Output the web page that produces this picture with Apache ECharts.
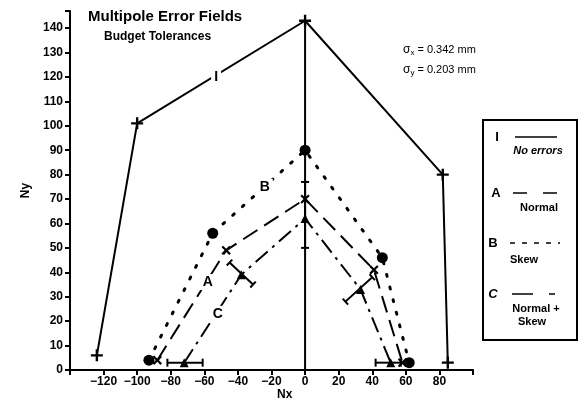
<!DOCTYPE html>
<html><head><meta charset="utf-8">
<script src="https://cdn.jsdelivr.net/npm/echarts@6/dist/echarts.min.js"></script>
<style>html,body{margin:0;padding:0;background:#fff}#c{width:582px;height:405px}</style>
</head><body><div id="c"></div>
<script>
// ---- data ----
const xTickValues = [-120,-100,-80,-60,-40,-20,0,20,40,60,80];
const yTickValues = [0,10,20,30,40,50,60,70,80,90,100,110,120,130,140];
const seriesI = [[-124,6],[-100,101],[0,143],[82,80],[85,3]];          // No errors
const seriesA = [[-88,4],[-47,49],[0,70],[41,41],[58,3]];               // Normal
const seriesB = [[-93,4],[-55,56],[0,90],[46,46],[62,3]];               // Skew
const seriesC = [[-72,3],[-38,39],[0,62],[33,33],[51,3]];               // Normal + Skew
const errorBarsC = [[-82,3,-61,3],[-45,44,-31,35],[0,50,0,77],[24,28,40,38],[42,3,57,3]];
const centerLine = [[0,0],[0,143]];
const lineLabels = [['I',-53,120],['B',-24,75],['A',-58,36],['C',-52,23]];

const FONT = '"Liberation Sans", Arial, sans-serif';
const PLUS = 'path://M4,0H6V4H10V6H6V10H4V6H0V4H4Z';

const chart = echarts.init(document.getElementById('c'), null, {renderer:'canvas'});
const fmtNum = v => (v < 0 ? '\u2212' + Math.abs(v) : String(v));

chart.setOption({
  animation:false,
  backgroundColor:'#fff',
  grid:{left:70, right:109, top:11, bottom:35, containLabel:false},
  xAxis:{
    type:'value', min:-140, max:100, interval:20,
    axisLine:{onZero:false, lineStyle:{color:'#000', width:2}},
    axisTick:{show:true, length:5, lineStyle:{color:'#000', width:2}},
    splitLine:{show:false},
    axisLabel:{color:'#000', fontFamily:FONT, fontWeight:'bold', fontSize:12, margin:6,
      formatter: v => xTickValues.includes(v) ? fmtNum(v) : ''}
  },
  yAxis:{
    type:'value', min:0, max:147, interval:10,
    axisLine:{onZero:false, lineStyle:{color:'#000', width:2}},
    axisTick:{show:true, length:5, lineStyle:{color:'#000', width:2}},
    splitLine:{show:false},
    axisLabel:{color:'#000', fontFamily:FONT, fontWeight:'bold', fontSize:12, margin:7,
      formatter: v => yTickValues.includes(v) ? String(v) : ''},
    name:'Ny', nameLocation:'middle', nameGap:31, nameRotate:90,
    nameTextStyle:{color:'#000', fontFamily:FONT, fontSize:12, fontWeight:'bold'}
  },
  series:[
    {type:'line', data:centerLine, symbol:'none', lineStyle:{color:'#000', width:2}, z:2},
    {type:'line', name:'I', data:seriesI, symbol:PLUS, symbolSize:12,
      itemStyle:{color:'#000'}, lineStyle:{color:'#000', width:2}, z:3},
    {type:'line', name:'A', data:seriesA, symbol:PLUS, symbolSize:11, symbolRotate:45,
      itemStyle:{color:'#000'}, lineStyle:{color:'#000', width:2, type:[17,8]}, z:3},
    {type:'line', name:'B', data:seriesB, symbol:'circle', symbolSize:11,
      itemStyle:{color:'#000'}, lineStyle:{color:'#000', width:3, type:[2,11], cap:'round'}, z:3},
    {type:'line', name:'C', data:seriesC, symbol:'triangle', symbolSize:9,
      itemStyle:{color:'#000'}, lineStyle:{color:'#000', width:2, type:[16,6,3,6]}, z:3},
    {type:'custom', data:errorBarsC, encode:{x:[0,2], y:[1,3]}, z:4,
      renderItem:function(params, api){
        const p1 = api.coord([api.value(0), api.value(1)]);
        const p2 = api.coord([api.value(2), api.value(3)]);
        const dx = p2[0]-p1[0], dy = p2[1]-p1[1];
        const L = Math.sqrt(dx*dx+dy*dy) || 1;
        const nx = -dy/L*4, ny = dx/L*4;
        const st = {stroke:'#000', lineWidth:2};
        return {type:'group', children:[
          {type:'line', shape:{x1:p1[0],y1:p1[1],x2:p2[0],y2:p2[1]}, style:st},
          {type:'line', shape:{x1:p1[0]-nx,y1:p1[1]-ny,x2:p1[0]+nx,y2:p1[1]+ny}, style:st},
          {type:'line', shape:{x1:p2[0]-nx,y1:p2[1]-ny,x2:p2[0]+nx,y2:p2[1]+ny}, style:st}
        ]};
      }},
    {type:'scatter', data:lineLabels.map(d => ({name:d[0], value:[d[1], d[2]]})),
      symbolSize:0, z:6, itemStyle:{opacity:1},
      label:{show:true, position:'inside', formatter:p => p.name, color:'#000', opacity:1,
        fontFamily:FONT, fontWeight:'bold', fontSize:14, backgroundColor:'#fff', padding:[1,3]}}
  ],
  graphic:[
    {type:'text', left:88, top:9, style:{text:'Multipole Error Fields', fill:'#000',
      font:'bold 15px "Liberation Sans", Arial, sans-serif'}},
    {type:'text', left:104, top:31, style:{text:'Budget Tolerances', fill:'#000',
      font:'bold 12px "Liberation Sans", Arial, sans-serif'}},
    {type:'text', left:403, top:44, style:{text:'{s|\u03c3}{b|x} = 0.342 mm', fill:'#000',
      font:'11px "Liberation Sans", Arial, sans-serif',
      rich:{s:{fontSize:12, fontFamily:FONT}, b:{fontSize:8, fontFamily:FONT, padding:[6,0,0,0]}}}},
    {type:'text', left:403, top:64, style:{text:'{s|\u03c3}{b|y} = 0.203 mm', fill:'#000',
      font:'11px "Liberation Sans", Arial, sans-serif',
      rich:{s:{fontSize:12, fontFamily:FONT}, b:{fontSize:8, fontFamily:FONT, padding:[6,0,0,0]}}}},
    {type:'text', left:277, top:389, style:{text:'Nx', fill:'#000',
      font:'bold 12px "Liberation Sans", Arial, sans-serif'}},
    // legend box
    {type:'rect', shape:{x:483, y:120, width:94, height:220}, style:{fill:'#fff', stroke:'#000', lineWidth:2}, z:10},
    {type:'text', x:497, y:137, style:{text:'I', fill:'#000', font:'bold 13px "Liberation Sans", Arial', textAlign:'center', textVerticalAlign:'middle'}, z:11},
    {type:'line', shape:{x1:515,y1:137,x2:557,y2:137}, style:{stroke:'#000', lineWidth:1.5}, z:11},
    {type:'text', x:538, y:151, style:{text:'No errors', fill:'#000', font:'italic bold 11px "Liberation Sans", Arial', textAlign:'center', textVerticalAlign:'middle'}, z:11},
    {type:'text', x:496, y:193, style:{text:'A', fill:'#000', font:'bold 13px "Liberation Sans", Arial', textAlign:'center', textVerticalAlign:'middle'}, z:11},
    {type:'line', shape:{x1:513,y1:193,x2:557,y2:193}, style:{stroke:'#000', lineWidth:1.5, lineDash:[14,16]}, z:11},
    {type:'text', x:539, y:208, style:{text:'Normal', fill:'#000', font:'bold 11px "Liberation Sans", Arial', textAlign:'center', textVerticalAlign:'middle'}, z:11},
    {type:'text', x:493, y:243, style:{text:'B', fill:'#000', font:'bold 13px "Liberation Sans", Arial', textAlign:'center', textVerticalAlign:'middle'}, z:11},
    {type:'line', shape:{x1:510,y1:243,x2:560,y2:243}, style:{stroke:'#000', lineWidth:1.5, lineDash:[5,7]}, z:11},
    {type:'text', x:524, y:260, style:{text:'Skew', fill:'#000', font:'bold 11px "Liberation Sans", Arial', textAlign:'center', textVerticalAlign:'middle'}, z:11},
    {type:'text', x:493, y:294, style:{text:'C', fill:'#000', font:'italic bold 13px "Liberation Sans", Arial', textAlign:'center', textVerticalAlign:'middle'}, z:11},
    {type:'line', shape:{x1:512,y1:294,x2:555,y2:294}, style:{stroke:'#000', lineWidth:1.5, lineDash:[21,16,6,10]}, z:11},
    {type:'text', x:536, y:309, style:{text:'Normal +', fill:'#000', font:'bold 11px "Liberation Sans", Arial', textAlign:'center', textVerticalAlign:'middle'}, z:11},
    {type:'text', x:532, y:322, style:{text:'Skew', fill:'#000', font:'bold 11px "Liberation Sans", Arial', textAlign:'center', textVerticalAlign:'middle'}, z:11}
  ]
});
</script>
</body></html>
